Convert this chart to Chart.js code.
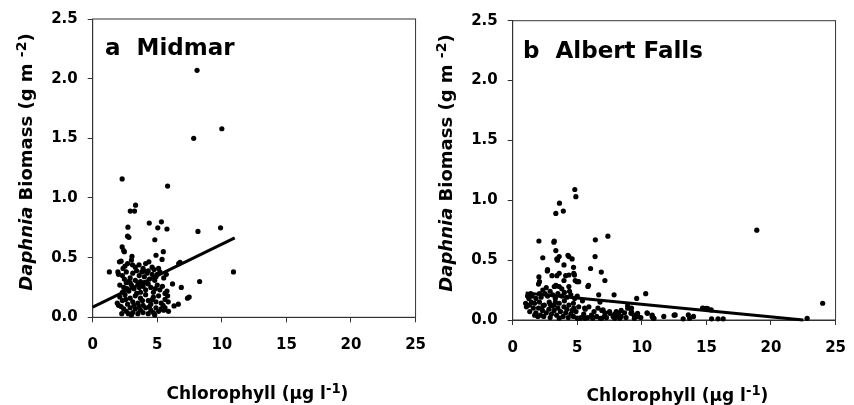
<!DOCTYPE html>
<html>
<head>
<meta charset="utf-8">
<script src="https://cdn.jsdelivr.net/npm/chart.js@4.4.0/dist/chart.umd.min.js"></script>
<style>
  html, body { margin: 0; padding: 0; background: #fff; }
  body { width: 854px; height: 405px; position: relative; overflow: hidden;
         font-family: "DejaVu Sans", sans-serif; font-weight: bold; color: #000; }
  .panel { position: absolute; top: 0; width: 440px; height: 405px; }
  .label { position: absolute; white-space: pre; font-size: 23px; line-height: 23px; }
  .xtitle { position: absolute; width: 300px; text-align: center; font-size: 17px; line-height: 17px; white-space: nowrap; }
  .ytitle { position: absolute; width: 300px; height: 18px; text-align: center; font-size: 18px; line-height: 18px;
            white-space: nowrap; transform: rotate(-90deg); }
  .sup { position: relative; top: -0.42em; font-size: 0.78em; }
</style>
</head>
<body>

<div class="panel" style="left:0"><canvas id="midmarChart"></canvas></div>
<div class="panel" style="left:420px"><canvas id="albertChart"></canvas></div>

<!-- panel labels and axis titles (mixed italic / superscript, so plain html) -->
<div class="label" style="left:105px; top:35.6px">a  Midmar</div>
<div class="label" style="left:523px; top:39px">b  Albert Falls</div>

<div class="ytitle" style="left:-124.5px; top:152.7px"><i>Daphnia</i> Biomass (g m <span class="sup">-2</span>)</div>
<div class="ytitle" style="left:295.5px; top:153.5px"><i>Daphnia</i> Biomass (g m <span class="sup">-2</span>)</div>

<div class="xtitle" style="left:107.5px; top:384.6px">Chlorophyll (µg l<span class="sup">-1</span>)</div>
<div class="xtitle" style="left:527.5px; top:387px">Chlorophyll (µg l<span class="sup">-1</span>)</div>

<script>
// a Midmar: chlorophyll (x) and Daphnia biomass (y), same order
const midmarChl = [
  8.08, 7.82, 10.0, 2.28, 5.8, 3.32, 2.91, 3.24, 4.38, 5.32, 5.04, 5.75,
  2.73, 8.15, 9.9, 2.7, 2.8, 4.81, 2.28, 2.4, 2.45, 5.47, 3.04, 4.9,
  5.37, 6.76, 6.66, 1.29, 1.95, 10.9, 8.28, 6.18, 6.86, 7.47, 7.34, 5.85,
  6.63, 6.3, 5.87, 2.25, 2.76, 2.07, 2.7, 3.08, 3.59, 4.1, 4.35, 2.2,
  3.3, 3.9, 4.6, 2.5, 5.1, 3.0, 4.75, 2.35, 2.0, 2.3, 2.6, 2.9,
  3.1, 3.4, 3.6, 3.8, 4.0, 4.2, 4.4, 4.6, 4.9, 5.2, 5.5, 3.3,
  2.75, 4.8, 5.7, 3.95, 2.45, 3.7, 4.3, 5.0, 2.1, 2.4, 2.6, 2.8,
  3.0, 3.2, 3.5, 3.7, 3.9, 4.1, 4.3, 4.5, 4.7, 5.0, 5.2, 5.4,
  5.6, 2.3, 2.9, 3.4, 4.0, 4.85, 5.75, 2.65, 3.6, 1.9, 2.1, 2.3,
  2.5, 2.7, 2.9, 3.1, 3.3, 3.5, 3.7, 3.9, 4.1, 4.3, 4.5, 4.7,
  4.9, 5.1, 5.3, 5.6, 5.8, 2.55, 3.2, 3.85, 4.6, 5.45, 2.0, 2.4,
  2.6, 2.9, 3.1, 3.3, 3.5, 3.7, 3.9, 4.1, 4.3, 4.5, 4.7, 4.9,
  5.1, 5.3, 5.5, 3.0, 3.6, 4.4, 4.8, 5.6, 2.2
];
const midmarBiomass = [
  2.07, 1.50, 1.58, 1.16, 1.10, 0.94, 0.89, 0.89, 0.79, 0.80, 0.75, 0.74,
  0.755, 0.72, 0.75, 0.68, 0.67, 0.65, 0.59, 0.56, 0.55, 0.55, 0.51, 0.52,
  0.485, 0.46, 0.45, 0.38, 0.38, 0.38, 0.30, 0.28, 0.25, 0.17, 0.16, 0.13,
  0.11, 0.095, 0.05, 0.03, 0.03, 0.465, 0.45, 0.44, 0.44, 0.45, 0.465, 0.47,
  0.42, 0.41, 0.42, 0.43, 0.41, 0.48, 0.40, 0.41, 0.36, 0.35, 0.38, 0.33,
  0.37, 0.39, 0.35, 0.38, 0.34, 0.37, 0.32, 0.36, 0.34, 0.38, 0.33, 0.31,
  0.30, 0.31, 0.36, 0.39, 0.32, 0.30, 0.39, 0.36, 0.27, 0.25, 0.29, 0.22,
  0.27, 0.24, 0.28, 0.21, 0.26, 0.23, 0.28, 0.25, 0.21, 0.27, 0.23, 0.26,
  0.20, 0.21, 0.29, 0.20, 0.29, 0.24, 0.22, 0.24, 0.25, 0.12, 0.17, 0.14,
  0.19, 0.11, 0.16, 0.13, 0.18, 0.12, 0.16, 0.10, 0.19, 0.14, 0.11, 0.17,
  0.13, 0.18, 0.12, 0.15, 0.18, 0.15, 0.10, 0.14, 0.15, 0.10, 0.10, 0.07,
  0.05, 0.08, 0.04, 0.07, 0.03, 0.06, 0.04, 0.08, 0.03, 0.06, 0.04, 0.08,
  0.05, 0.07, 0.06, 0.02, 0.09, 0.09, 0.02, 0.08, 0.09
];
const midmarFitX = [0, 11];
const midmarFitY = [0.085, 0.665];

// b Albert Falls
const albertChl = [
  4.81, 4.89, 3.62, 3.92, 3.34, 18.9, 7.37, 2.03, 3.22, 3.19, 6.4, 3.34,
  2.33, 6.38, 3.6, 4.28, 4.6, 3.42, 6.03, 4.71, 3.97, 2.68, 6.86, 2.03,
  3.04, 3.42, 4.1, 4.78, 7.14, 4.84, 5.11, 2.0, 5.82, 3.22, 3.35, 9.6,
  10.3, 7.85, 6.66, 24.0, 14.7, 15.1, 22.8, 11.7, 12.5, 13.2, 13.7, 14.0,
  15.4, 15.9, 16.3, 10.8, 10.9, 10.4, 9.2, 9.4, 9.7, 8.9, 9.2, 8.2,
  8.4, 7.9, 7.5, 7.1, 6.8, 6.6, 6.9, 6.3, 5.9, 6.1, 5.6, 5.2,
  6.76, 5.57, 1.0, 1.06, 1.44, 1.32, 1.7, 1.95, 3.47, 4.35, 2.7, 3.6,
  4.35, 4.73, 2.07, 3.34, 3.6, 3.97, 4.35, 4.98, 5.87, 2.33, 2.07, 7.0,
  1.31, 1.69, 2.07, 2.45, 2.83, 3.21, 3.6, 3.97, 4.35, 4.73, 5.11, 5.62,
  7.14, 7.9, 8.15, 8.66, 7.52, 8.02, 8.4, 8.91, 9.16, 9.67, 10.43, 10.8,
  12.58, 13.6, 14.74, 15.0, 15.37, 6.88, 7.26, 7.77, 8.28, 8.78, 9.42, 9.92,
  10.94, 1.5, 1.8, 2.2, 2.5, 2.7, 2.9, 3.1, 3.3, 3.5, 3.8, 4.0,
  4.2, 4.5, 4.8, 2.0, 2.3, 2.6, 2.8, 3.0, 3.2, 3.4, 3.7, 3.9,
  4.1, 4.3, 4.5, 4.7, 4.9, 5.3, 5.5, 2.4, 2.9, 3.5, 3.6, 4.2,
  4.6, 1.8, 2.15, 5.0, 5.8, 6.2, 6.5, 5.4, 5.0, 3.05, 2.35, 4.0,
  1.25, 1.15, 1.6, 2.6, 3.8, 4.4, 1.4, 2.9, 4.7, 3.3
];
const albertBiomass = [
  1.09, 1.03, 0.976, 0.91, 0.89, 0.75, 0.70, 0.66, 0.66, 0.65, 0.67, 0.58,
  0.52, 0.53, 0.53, 0.54, 0.51, 0.51, 0.43, 0.44, 0.46, 0.41, 0.40, 0.36,
  0.37, 0.37, 0.37, 0.375, 0.33, 0.33, 0.32, 0.30, 0.28, 0.28, 0.285, 0.18,
  0.22, 0.21, 0.21, 0.14, 0.10, 0.095, 0.014, 0.03, 0.04, 0.01, 0.014, 0.03,
  0.01, 0.01, 0.01, 0.04, 0.015, 0.06, 0.07, 0.04, 0.03, 0.12, 0.10, 0.055,
  0.08, 0.014, 0.07, 0.03, 0.014, 0.10, 0.08, 0.07, 0.11, 0.04, 0.014, 0.014,
  0.15, 0.10, 0.14, 0.11, 0.15, 0.07, 0.04, 0.03, 0.50, 0.53, 0.42, 0.39,
  0.376, 0.39, 0.32, 0.29, 0.28, 0.33, 0.28, 0.32, 0.29, 0.25, 0.22, 0.084,
  0.125, 0.14, 0.15, 0.125, 0.15, 0.125, 0.14, 0.11, 0.125, 0.10, 0.11, 0.09,
  0.06, 0.05, 0.03, 0.06, 0.056, 0.07, 0.03, 0.098, 0.056, 0.056, 0.056, 0.028,
  0.042, 0.042, 0.098, 0.098, 0.084, 0.014, 0.02, 0.03, 0.014, 0.02, 0.014, 0.02,
  0.014, 0.20, 0.18, 0.19, 0.22, 0.20, 0.24, 0.21, 0.18, 0.22, 0.20, 0.23,
  0.19, 0.21, 0.18, 0.10, 0.08, 0.06, 0.09, 0.05, 0.08, 0.04, 0.07, 0.03,
  0.06, 0.02, 0.05, 0.03, 0.07, 0.02, 0.05, 0.03, 0.02, 0.10, 0.015, 0.09,
  0.08, 0.06, 0.04, 0.015, 0.02, 0.015, 0.03, 0.16, 0.20, 0.12, 0.12, 0.16,
  0.18, 0.20, 0.10, 0.27, 0.26, 0.24, 0.22, 0.13, 0.14, 0.15
];
const albertFitX = [1, 22.5];
const albertFitY = [0.225, 0.0];

const xTicks = [0, 5, 10, 15, 20, 25];
const yTicks = [0, 0.5, 1.0, 1.5, 2.0, 2.5];

Chart.defaults.font.family = "'DejaVu Sans', sans-serif";
Chart.defaults.font.weight = 'bold';
Chart.defaults.font.size = 15;
Chart.defaults.color = '#000';

// box round the plot area (top and right sides are not axes)
const framePlugin = {
  id: 'frame',
  beforeDatasetsDraw(chart) {
    const { ctx, chartArea: a } = chart;
    ctx.save();
    ctx.strokeStyle = '#333';
    ctx.lineWidth = 1;
    ctx.strokeRect(a.left, a.top, a.right - a.left, a.bottom - a.top);
    ctx.restore();
  }
};

const pairs = (xs, ys) => xs.map((x, i) => ({ x: x, y: ys[i] }));

function makePanel(id, chl, biomass, fitX, fitY, top, bottom) {
  new Chart(document.getElementById(id), {
    type: 'scatter',
    data: {
      datasets: [
        {
          data: pairs(fitX, fitY),
          showLine: true,
          borderColor: '#000',
          borderWidth: 3,
          pointRadius: 0,
          clip: false
        },
        {
          data: pairs(chl, biomass),
          backgroundColor: '#000',
          borderWidth: 0,
          pointRadius: 2.6,
          clip: false
        }
      ]
    },
    options: {
      responsive: true,
      maintainAspectRatio: false,
      animation: false,
      events: [],
      layout: { padding: { left: 0, right: 18.3, top: top, bottom: 0 } },
      plugins: { legend: { display: false }, tooltip: { enabled: false } },
      scales: {
        x: {
          min: 0, max: 25,
          afterBuildTicks: s => { s.ticks = xTicks.map(v => ({ value: v })); },
          afterFit: s => { s.height = 405 - bottom; },
          border: { display: true, color: '#333', width: 1 },
          grid: { drawOnChartArea: false, drawTicks: true, tickLength: 5, color: '#333' },
          ticks: { padding: 14, maxRotation: 0, callback: v => String(v) }
        },
        y: {
          min: 0, max: 2.5,
          afterBuildTicks: s => { s.ticks = yTicks.map(v => ({ value: v })); },
          afterFit: s => { s.width = 92.7; },
          border: { display: true, color: '#333', width: 1 },
          grid: { drawOnChartArea: false, drawTicks: true, tickLength: 5, color: '#333' },
          ticks: { padding: 10, callback: v => Number(v).toFixed(1) }
        }
      }
    },
    plugins: [framePlugin]
  });
}

makePanel('midmarChart', midmarChl, midmarBiomass, midmarFitX, midmarFitY, 18.3, 317.3);
makePanel('albertChart', albertChl, albertBiomass, albertFitX, albertFitY, 20.7, 320);
</script>
</body>
</html>
